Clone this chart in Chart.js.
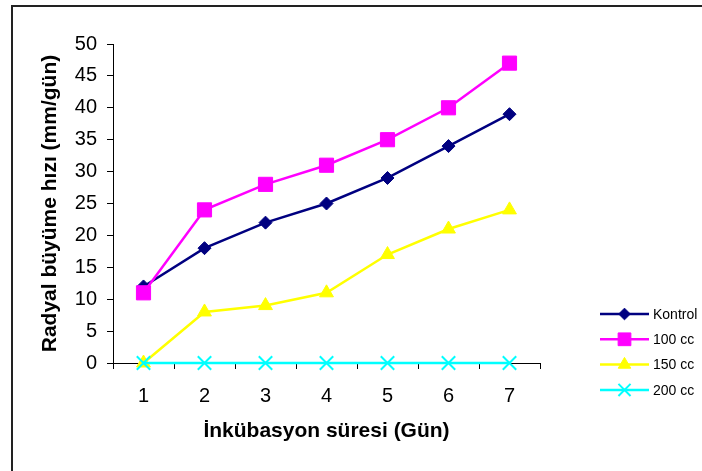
<!DOCTYPE html>
<html>
<head>
<meta charset="utf-8">
<script src="https://cdn.jsdelivr.net/npm/chart.js@4"></script>
<style>
  body { margin: 0; background: #fff; }
  #frame { position: absolute; left: 11px; top: 5px; width: 720px; height: 500px; border-left: 2px solid #222; border-top: 2px solid #222; }
  #wrap { position: absolute; left: 0; top: 0; width: 702px; height: 471px; }
</style>
</head>
<body>
<div id="frame"></div>
<div id="wrap"><canvas id="chart" width="702" height="471"></canvas></div>
<script>
// Data
const days = ["1", "2", "3", "4", "5", "6", "7"];
const kontrol = [12, 18, 22, 25, 29, 34, 39];
const cc100 = [11, 24, 28, 31, 35, 40, 47];
const cc150 = [0, 8, 9, 11, 17, 21, 24];
const cc200 = [0, 0, 0, 0, 0, 0, 0];
const seriesNames = ["Kontrol", "100 cc", "150 cc", "200 cc"];

const font = "'Liberation Sans', Arial, sans-serif";

function series(label, data, color, style, radius, order) {
  return {
    label, data, order,
    borderColor: color,
    backgroundColor: color,
    pointBorderColor: color,
    pointBackgroundColor: color,
    borderWidth: 2.5,
    pointStyle: style,
    pointRadius: radius,
    pointHoverRadius: radius,
    pointBorderWidth: style === "crossRot" ? 2 : 1,
    clip: false,
    tension: 0
  };
}

// Legend drawn as line + marker, like the spreadsheet chart
const lineLegend = {
  id: "lineLegend",
  afterDraw(chart) {
    const ctx = chart.ctx;
    const x0 = 600, x1 = 649, yStart = 314, step = 25.3;
    chart.data.datasets.forEach((ds, i) => {
      const y = yStart + i * step;
      ctx.save();
      ctx.strokeStyle = ds.borderColor;
      ctx.lineWidth = 2.5;
      ctx.beginPath();
      ctx.moveTo(x0, y);
      ctx.lineTo(x1, y);
      ctx.stroke();
      ctx.fillStyle = ds.backgroundColor;
      ctx.lineWidth = ds.pointBorderWidth;
      const r = ds.pointStyle === "rect" ? 9 : ds.pointRadius * 0.9;
      Chart.helpers.drawPoint(ctx, { pointStyle: ds.pointStyle, radius: r, rotation: 0, borderWidth: ds.pointBorderWidth }, (x0 + x1) / 2, y);
      ctx.fillStyle = "#000";
      ctx.font = "14px " + font;
      ctx.textBaseline = "middle";
      ctx.fillText(seriesNames[i], 653, y + 1);
      ctx.restore();
    });
  }
};

new Chart(document.getElementById("chart"), {
  type: "line",
  data: {
    labels: days,
    datasets: [
      series(seriesNames[0], kontrol, "#000080", "rectRot", 6.5, 4),
      series(seriesNames[1], cc100, "#FF00FF", "rect", 10, 3),
      series(seriesNames[2], cc150, "#FFFF00", "triangle", 8, 2),
      series(seriesNames[3], cc200, "#00FFFF", "crossRot", 9.5, 1)
    ]
  },
  options: {
    responsive: false,
    animation: false,
    events: [],
    layout: { padding: { top: 44, right: 162, left: 0, bottom: 23 } },
    plugins: { legend: { display: false }, tooltip: { enabled: false } },
    scales: {
      x: {
        offset: true,
        grid: { offset: true, drawOnChartArea: false, drawTicks: true, tickLength: 6, color: "#000" },
        border: { color: "#000", width: 1 },
        ticks: { color: "#000", font: { family: font, size: 20 }, padding: 15, maxRotation: 0 },
        title: { display: true, text: "İnkübasyon süresi (Gün)", color: "#000", font: { family: font, size: 21, weight: "bold" }, padding: { top: 12 } },
        afterFit(scale) { scale.height = 85; }
      },
      y: {
        min: 0, max: 50,
        grid: { drawOnChartArea: false, drawTicks: true, tickLength: 6, color: "#000" },
        border: { color: "#000", width: 1 },
        ticks: { stepSize: 5, color: "#000", font: { family: font, size: 20 }, padding: 10 },
        title: { display: true, text: "Radyal büyüme hızı (mm/gün)", color: "#000", font: { family: font, size: 21, weight: "bold" }, padding: { top: 38 } },
        afterFit(scale) { scale.width = 113; }
      }
    }
  },
  plugins: [lineLegend]
});
</script>
</body>
</html>
